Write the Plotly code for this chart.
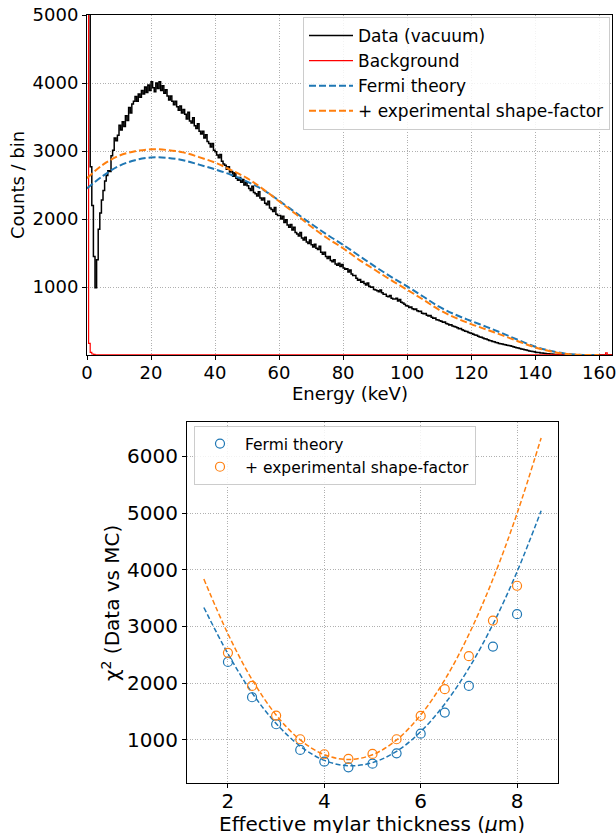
import plotly.graph_objects as go

# ---------------- Top panel: energy spectrum ----------------
BIN_WIDTH_KEV = 0.5
data_counts = [
    9000, 9000, 2770, 2200, 1450, 990, 1400, 1850, 2090, 2280, 2420, 2560, 2640, 2710, 2700, 2930, 3010, 3190, 3150, 3230,
    3380, 3310, 3430, 3360, 3520, 3450, 3640, 3560, 3690, 3730, 3800, 3730, 3840, 3790, 3890, 3840, 3940, 3860, 3970, 3890,
    4020, 3930, 3870, 4000, 3920, 4020, 3890, 3960, 3850, 3900, 3810, 3750, 3810, 3730, 3680, 3730, 3650, 3600, 3660, 3560,
    3610, 3540, 3470, 3570, 3440, 3410, 3490, 3370, 3330, 3400, 3290, 3250, 3290, 3190, 3240, 3140, 3110, 3060, 3110, 3010,
    2990, 2940, 2900, 2950, 2850, 2810, 2790, 2730, 2770, 2690, 2700, 2630, 2680, 2600, 2570, 2610, 2540, 2580, 2500, 2540,
    2490, 2450, 2420, 2480, 2390, 2370, 2340, 2400, 2310, 2280, 2310, 2230, 2210, 2260, 2160, 2140, 2110, 2170, 2070, 2050,
    2050, 2000, 2040, 1950, 1990, 1910, 1880, 1920, 1840, 1880, 1800, 1780, 1750, 1800, 1720, 1690, 1730, 1660, 1640, 1690,
    1620, 1590, 1630, 1570, 1550, 1600, 1510, 1480, 1510, 1450, 1420, 1450, 1390, 1370, 1400, 1340, 1320, 1350, 1300, 1330,
    1280, 1260, 1270, 1220, 1250, 1190, 1170, 1170, 1130, 1100, 1110, 1070, 1080, 1050, 1030, 1060, 1010, 995, 1000, 965,
    955, 945, 930, 955, 915, 895, 895, 865, 855, 875, 835, 825, 825, 835, 795, 815, 775, 765, 745, 725,
    720, 700, 705, 680, 670, 675, 650, 640, 645, 615, 605, 610, 585, 575, 580, 555, 540, 545, 520, 515,
    505, 495, 480, 485, 465, 455, 440, 445, 425, 420, 410, 400, 385, 390, 370, 360, 350, 345, 330, 325,
    315, 305, 295, 290, 275, 265, 260, 250, 240, 235, 225, 215, 210, 200, 195, 185, 180, 170, 165, 160,
    155, 150, 145, 140, 135, 128, 120, 115, 108, 102, 96, 90, 85, 78, 72, 66, 60, 55, 50, 46,
    42, 38, 35, 31, 28, 25, 22, 19, 17, 15, 13, 11, 9, 8, 7, 6, 5, 4, 3, 3,
    2, 2, 2, 1, 1, 1, 1, 0, 0, 0, 0, 0, 0, 0, 0, 0, 0, 0, 0, 0,
    0, 0, 0, 0, 0, 0, 0, 0,
]

bg_energy = [0.0, 0.5, 1.0, 1.5, 2.0, 2.5, 162.0, 162.5, 164.0]
bg_counts = [9000, 170, 40, 15, 8, 4, 30, 4, 4]

model_energy = [0, 5, 10, 15, 20, 25, 30, 35, 40, 45, 50, 55, 60, 65, 70, 75, 80,
                85, 90, 95, 100, 105, 110, 115, 120, 125, 130, 135, 140, 145, 150, 155, 160]
fermi_counts = [2450, 2635, 2780, 2865, 2905, 2900, 2865, 2800, 2730, 2650, 2550, 2430, 2270, 2100, 1930, 1770, 1620,
                1460, 1300, 1150, 1010, 860, 710, 595, 500, 410, 315, 215, 122, 58, 17, 1, 0]
shape_counts = [2600, 2800, 2930, 2995, 3025, 3015, 2980, 2910, 2830, 2720, 2600, 2440, 2260, 2080, 1890, 1720, 1570,
                1400, 1250, 1100, 960, 815, 665, 550, 455, 370, 285, 195, 112, 52, 14, 1, 0]

# ---------------- Bottom panel: chi2 scan ----------------
thickness = [2.0, 2.5, 3.0, 3.5, 4.0, 4.5, 5.0, 5.5, 6.0, 6.5, 7.0, 7.5, 8.0]
chi2_fermi = [2376, 1753, 1277, 824, 617, 518, 582, 765, 1111, 1482, 1953, 2646, 3218]
chi2_shape = [2535, 1953, 1429, 1012, 748, 665, 753, 1012, 1424, 1895, 2477, 3105, 3718]

fit_thickness = [1.5, 2.0, 2.5, 3.0, 3.5, 4.0, 4.5, 5.0, 5.5, 6.0, 6.5, 7.0, 7.5, 8.0, 8.5]
fit_fermi = [3335, 2520, 1830, 1290, 890, 640, 545, 600, 800, 1145, 1635, 2265, 3040, 3965, 5041]
fit_shape = [3836, 2870, 2065, 1440, 1000, 740, 655, 740, 1000, 1440, 2060, 2860, 3836, 4991, 6324]

BLUE = "#1f77b4"
ORANGE = "#ff7f0e"
FONT = "DejaVu Sans"

edges = [i * BIN_WIDTH_KEV for i in range(len(data_counts) + 1)]
step_y = data_counts + [data_counts[-1]]

fig = go.Figure()

fig.add_trace(go.Scatter(x=edges, y=step_y, mode="lines", line=dict(color="black", width=1.5, shape="hv"),
                         name="Data (vacuum)", xaxis="x", yaxis="y", legend="legend"))
fig.add_trace(go.Scatter(x=bg_energy, y=bg_counts, mode="lines", line=dict(color="red", width=1.2, shape="hv"),
                         name="Background", xaxis="x", yaxis="y", legend="legend"))
fig.add_trace(go.Scatter(x=model_energy, y=fermi_counts, mode="lines",
                         line=dict(color=BLUE, width=2, dash="7px,3px", shape="spline"),
                         name="Fermi theory", xaxis="x", yaxis="y", legend="legend"))
fig.add_trace(go.Scatter(x=model_energy, y=shape_counts, mode="lines",
                         line=dict(color=ORANGE, width=2, dash="7px,3px", shape="spline"),
                         name="+ experimental shape-factor", xaxis="x", yaxis="y", legend="legend"))

fig.add_trace(go.Scatter(x=fit_thickness, y=fit_fermi, mode="lines",
                         line=dict(color=BLUE, width=1.5, dash="5px,2.5px", shape="spline"),
                         showlegend=False, xaxis="x2", yaxis="y2"))
fig.add_trace(go.Scatter(x=fit_thickness, y=fit_shape, mode="lines",
                         line=dict(color=ORANGE, width=1.5, dash="5px,2.5px", shape="spline"),
                         showlegend=False, xaxis="x2", yaxis="y2"))
fig.add_trace(go.Scatter(x=thickness, y=chi2_fermi, mode="markers",
                         marker=dict(symbol="circle-open", size=9, color=BLUE, line=dict(width=1.2)),
                         name="Fermi theory", xaxis="x2", yaxis="y2", legend="legend2"))
fig.add_trace(go.Scatter(x=thickness, y=chi2_shape, mode="markers",
                         marker=dict(symbol="circle-open", size=9, color=ORANGE, line=dict(width=1.2)),
                         name="+ experimental shape-factor", xaxis="x2", yaxis="y2", legend="legend2"))

W, H = 616, 833
def px(x):
    return x / W
def py(y):
    return 1 - y / H

axis_common = dict(showline=True, linecolor="black", linewidth=1, mirror=True, ticks="outside",
                   ticklen=4, tickwidth=1, tickcolor="black", showgrid=True, gridcolor="#b0b0b0",
                   gridwidth=0.8, griddash="1px,1.6px", zeroline=False, automargin=False,
                   ticklabeloverflow="allow")

fig.update_layout(
    width=W, height=H, margin=dict(l=0, r=0, t=0, b=0, pad=0, autoexpand=False),
    paper_bgcolor="white", plot_bgcolor="white",
    font=dict(family=FONT, color="black"),
    xaxis=dict(domain=[px(87), px(612)], range=[0, 164], tickvals=[0, 20, 40, 60, 80, 100, 120, 140, 160],
               tickfont=dict(size=18), anchor="y", layer="below traces", ticklabelstandoff=-3, **axis_common),
    yaxis=dict(domain=[py(355), py(15)], range=[0, 5000], tickvals=[1000, 2000, 3000, 4000, 5000],
               tickfont=dict(size=18), anchor="x", layer="below traces", **axis_common),
    xaxis2=dict(domain=[px(187), px(558)], range=[1.15, 8.85], tickvals=[2, 4, 6, 8],
                tickfont=dict(size=20), anchor="y2", ticklabelstandoff=-4, **axis_common),
    yaxis2=dict(domain=[py(783), py(422)], range=[241, 6605], tickvals=[1000, 2000, 3000, 4000, 5000, 6000],
                tickfont=dict(size=20), anchor="x2", **axis_common),
    legend=dict(x=px(303), y=py(17), xanchor="left", yanchor="top", bgcolor="rgba(255,255,255,0.85)",
                bordercolor="#cccccc", borderwidth=1, itemwidth=44, font=dict(size=17, family=FONT)),
    legend2=dict(x=px(194), y=py(426), xanchor="left", yanchor="top", bgcolor="rgba(255,255,255,0.85)",
                 bordercolor="#cccccc", borderwidth=1, itemwidth=40, font=dict(size=15.5, family=FONT)),
    annotations=[
        dict(text="Counts / bin", x=px(18), y=py(185), xref="paper", yref="paper", showarrow=False,
             textangle=-90, font=dict(size=18), xanchor="center", yanchor="middle"),
        dict(text="Energy (keV)", x=px(350), y=py(393), xref="paper", yref="paper", showarrow=False,
             font=dict(size=18), xanchor="center", yanchor="middle"),
        dict(text="χ<sup>2</sup> (Data vs MC)", x=px(111), y=py(603), xref="paper", yref="paper",
             showarrow=False, textangle=-90, font=dict(size=20), xanchor="center", yanchor="middle"),
        dict(text="Effective mylar thickness (<i>μ</i>m)", x=px(372), y=py(824), xref="paper", yref="paper",
             showarrow=False, font=dict(size=20), xanchor="center", yanchor="middle"),
    ],
)

fig.write_html(
    "out.html",
    config={"responsive": False, "displayModeBar": False},
    post_script="document.body.style.margin='0';document.body.style.overflow='hidden';",
)
